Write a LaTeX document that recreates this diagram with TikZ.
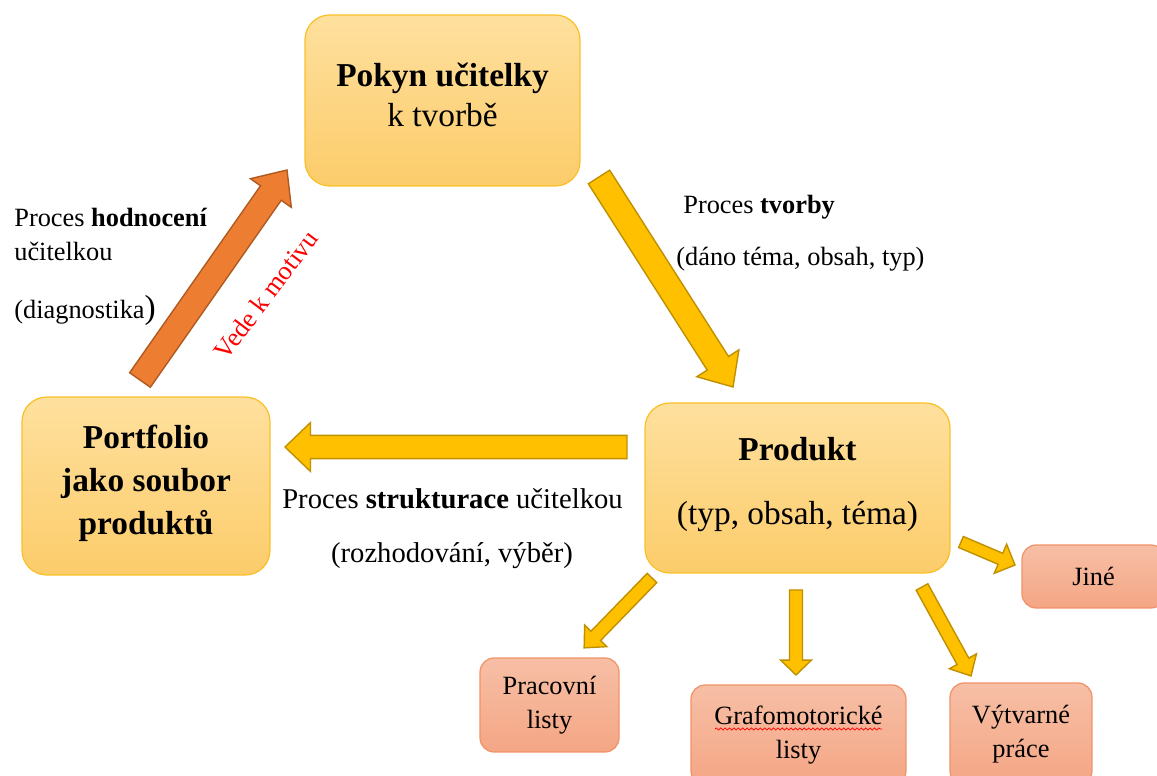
\documentclass[tikz,border=0pt]{standalone}
\usepackage{fontspec}
\setmainfont{Liberation Serif}
\usetikzlibrary{calc,decorations.pathmorphing}

\definecolor{boxtop}{RGB}{254,224,158}
\definecolor{boxbot}{RGB}{252,204,106}
\definecolor{boxline}{RGB}{250,192,40}
\definecolor{salmtop}{RGB}{247,191,166}
\definecolor{salmbot}{RGB}{244,166,132}
\definecolor{salmline}{RGB}{240,146,104}
\definecolor{arrowyel}{RGB}{255,192,0}
\definecolor{arrowyelline}{RGB}{191,144,0}
\definecolor{arroworg}{RGB}{237,125,49}
\definecolor{arroworgline}{RGB}{174,90,33}

\tikzset{
  bigbox/.style={rectangle,rounded corners=14pt,draw=boxline,line width=0.7pt,top color=boxtop,bottom color=boxbot,inner sep=0pt,align=center,font=\fontsize{19}{23}\selectfont},
  smallbox/.style={rectangle,rounded corners=8pt,draw=salmline,line width=0.7pt,top color=salmtop,bottom color=salmbot,inner sep=0pt,align=center,font=\fontsize{15}{19.3}\selectfont},
  yelarrow/.style={fill=arrowyel,draw=arrowyelline,line width=0.8pt},
  orgarrow/.style={fill=arroworg,draw=arroworgline,line width=0.8pt},
  proclabel/.style={font=\fontsize{15}{19.3}\selectfont,inner sep=0pt},
}

% block arrow: style, from, to, shaft half width, head half width, head length (all pt)
\newcommand\blockarrow[6]{%
  \path[#1] let \p1=($(#3)-(#2)$), \n1={atan2(\y1,\x1)}, \n2={veclen(\x1,\y1)} in
    [shift={(#2)},rotate=\n1]
    (0pt,{-#4*1pt}) -- ({(\n2-#6)*1pt},{-#4*1pt}) -- ({(\n2-#6)*1pt},{-#5*1pt}) -- ({\n2*1pt},0pt)
    -- ({(\n2-#6)*1pt},{#5*1pt}) -- ({(\n2-#6)*1pt},{#4*1pt}) -- (0pt,{#4*1pt}) -- cycle;}

\begin{document}
\begin{tikzpicture}[x=0.02cm,y=-0.02cm]
\useasboundingbox (0,0) rectangle (1157,776);
\clip (0,0) rectangle (1157,776);

% the three main boxes
\node[bigbox,minimum width=5.5cm,minimum height=3.42cm,font=\fontsize{19}{22.7}\selectfont,text depth=7pt] (pokyn) at (442.5,100.5) {\textbf{Pokyn učitelky}\\k tvorbě};
\node[bigbox,minimum width=4.96cm,minimum height=3.56cm,font=\fontsize{19}{24.5}\selectfont\bfseries,text depth=7pt] (portfolio) at (146,486) {Portfolio\\jako soubor\\produktů};
\node[bigbox,minimum width=6.1cm,minimum height=3.4cm,text depth=8pt] (produkt) at (797.5,488) {\textbf{Produkt}\\[13pt](typ, obsah, téma)};

% kinds of product
\node[smallbox,minimum width=2.86cm,minimum height=1.26cm] (jine) at (1093.5,576.5) {Jiné};
\node[smallbox,minimum width=2.78cm,minimum height=1.88cm] (pracovni) at (549.5,705) {Pracovní\\listy};
\node[smallbox,minimum width=4.3cm,minimum height=2cm] (grafo) at (798.5,735) {Grafomotorické\\listy};
\node[smallbox,minimum width=2.84cm,minimum height=2.04cm] (vytvarne) at (1021,734) {Výtvarné\\práce};
\draw[red,line width=0.4pt,decorate,decoration={snake,amplitude=0.6pt,segment length=2.5pt}] (715,729) -- (882,729); % spell-check line

% arrow ends
\coordinate (hodnA) at (140,380);   \coordinate (hodnB) at (287,170);
\coordinate (tvorA) at (599,177);   \coordinate (tvorB) at (733,387);
\coordinate (strA) at (627,447);    \coordinate (strB) at (285,447);
\coordinate (pracA) at (652,578);   \coordinate (pracB) at (584,648);
\coordinate (grafA) at (796,590);   \coordinate (grafB) at (796,675);
\coordinate (vytA) at (922,587);    \coordinate (vytB) at (971,676);
\coordinate (jinA) at (961,542);    \coordinate (jinB) at (1015,565);

\blockarrow{orgarrow}{hodnA}{hodnB}{7.2}{14.2}{16}
\blockarrow{yelarrow}{tvorA}{tvorB}{7.2}{14.2}{16}
\blockarrow{yelarrow}{strA}{strB}{6.6}{13.9}{14.5}
\blockarrow{yelarrow}{pracA}{pracB}{3.8}{8.8}{9.5}
\blockarrow{yelarrow}{grafA}{grafB}{3.7}{8.8}{8.5}
\blockarrow{yelarrow}{vytA}{vytB}{3.8}{8.8}{9.5}
\blockarrow{yelarrow}{jinA}{jinB}{3.4}{9}{9}

% process labels
\node[proclabel,anchor=west] (tvorba1) at (683,207) {Proces \textbf{tvorby}};
\node[proclabel,anchor=west] (tvorba2) at (676,259) {(dáno téma, obsah, typ)};
\node[proclabel,anchor=west] (hodn1) at (14,217) {Proces \textbf{hodnocení}};
\node[proclabel,anchor=west] (hodn2) at (14,251) {učitelkou};
\node[proclabel,anchor=west] (hodn3) at (14,310) {(diagnostika{\fontsize{19}{19}\selectfont)}};
\node[proclabel,font=\fontsize{16.3}{20}\selectfont] (struk1) at (452.5,499) {Proces \textbf{strukturace} učitelkou};
\node[proclabel,font=\fontsize{16.3}{20}\selectfont] (struk2) at (452,556) {(rozhodování, výběr)};
\node[proclabel,text=red,rotate=53] (motiv) at (266,295) {Vede k motivu};
\end{tikzpicture}
\end{document}
